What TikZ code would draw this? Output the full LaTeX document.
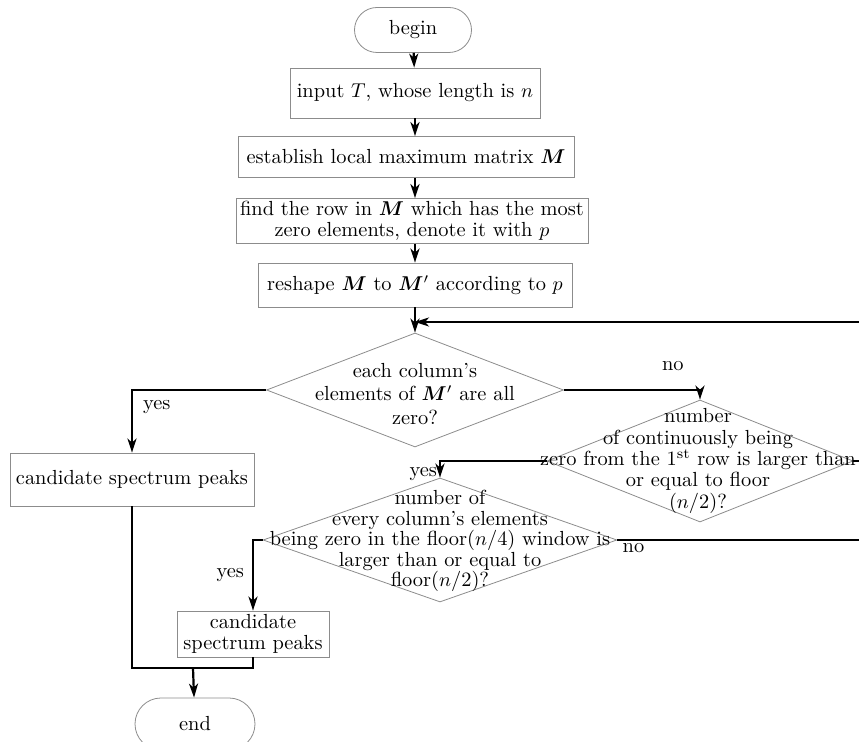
\documentclass[tikz,border=0pt]{standalone}
\usepackage{amsmath,bm}
\usetikzlibrary{shapes.geometric,shapes.misc,arrows.meta}
\tikzset{
  txt/.style={align=center, inner sep=0pt, font=\fontsize{10.2}{10.7}\selectfont},
  box/.style={txt, draw=black!45, line width=0.4pt},
  term/.style={box, rounded rectangle},
  dia/.style={diamond, draw=black!45, line width=0.4pt, inner sep=0pt},
  flow/.style={line width=1.1pt},
  lab/.style={inner sep=1pt, font=\fontsize{10.2}{10.7}\selectfont}
}
\begin{document}
\begin{tikzpicture}[>={Stealth[length=7pt,width=4.5pt,inset=2pt]}, x=0.5pt, y=-0.5pt]
  \useasboundingbox (0,0) rectangle (859,742);
  % main column
  \node[term, minimum width=58.5pt, minimum height=22.5pt] (begin) at (413,30) {begin};
  \node[box, minimum width=125pt, minimum height=25pt] (input) at (415,93) {input $T$, whose length is $n$};
  \node[box, minimum width=168pt, minimum height=20.5pt] (local) at (406,157) {establish local maximum matrix $\bm{M}$};
  \node[box, minimum width=176pt, minimum height=22.5pt] (row) at (412,221) {find the row in $\bm{M}$ which has the most\\zero elements, denote it with $p$};
  \node[box, minimum width=157pt, minimum height=22pt] (reshape) at (415,285) {reshape $\bm{M}$ to $\bm{M}'$ according to $p$};
  \coordinate (back) at (415,322);
  \node[dia, minimum width=148.5pt, minimum height=57pt] (col) at (415,390) {};
  \node[txt, font=\fontsize{10.2}{11.6}\selectfont] (colt) at (415,394) {each column's\\elements of $\bm{M}'$ are all\\zero?};
  % right branch
  \node[dia, minimum width=153pt, minimum height=61pt] (cont) at (700,461) {};
  \node[txt] (contt) at (698,461) {number\\of continuously being\\zero from the 1$^{\text{st}}$ row is larger than\\or equal to floor\\($n$/2)?};
  \node[dia, minimum width=177pt, minimum height=62pt] (win) at (440,540) {};
  \node[txt, font=\fontsize{10.2}{10.2}\selectfont] (wint) at (440,541) {number of\\every column's elements\\being zero in the floor($n$/4) window is\\larger than or equal to\\floor($n$/2)?};
  % outputs
  \node[box, minimum width=122pt, minimum height=26.5pt] (cand1) at (132,479.5) {candidate spectrum peaks};
  \node[box, minimum width=76pt, minimum height=23pt] (cand2) at (253,634) {candidate\\spectrum peaks};
  \node[term, minimum width=60pt, minimum height=26pt] (end) at (195,724) {end};
  \coordinate (merge) at (193,668);
  \coordinate (loop) at (885,322);

  \draw[flow,->] (begin) -- (input);
  \draw[flow,->] (input.south) -- (input.south |- local.north);
  \draw[flow,->] (local.south -| input) -- (row.north -| input);
  \draw[flow,->] (row.south -| input) -- (reshape);
  \draw[flow,->] (reshape) -- (col);
  \draw[flow,->] (col.west) -| (cand1.north) node[lab, pos=0.64, right=4pt] {yes};
  \draw[flow,->] (col.east) -| (cont.north) node[lab, pos=0.4, above=8pt] {no};
  \draw[flow,->] (cont.west) -| (win.north) node[lab, pos=0.9, left] {yes};
  \draw[flow,->] (win.west) -| (cand2.north) node[lab, pos=0.75, left=3pt] {yes};
  \draw[flow] (cont.east) -- (cont.east -| loop) node[lab, pos=0.1, above, anchor=south west] {no};
  \draw[flow] (win.east) -- (win.east -| loop) node[lab, pos=0.06, below] {no};
  \draw[flow,->] (win.east -| loop) -- (loop) -- (back);
  \draw[flow] (cand1.south) |- (merge) -| (cand2.south);
  \draw[flow,->] (merge) -- (end);
\end{tikzpicture}
\end{document}
